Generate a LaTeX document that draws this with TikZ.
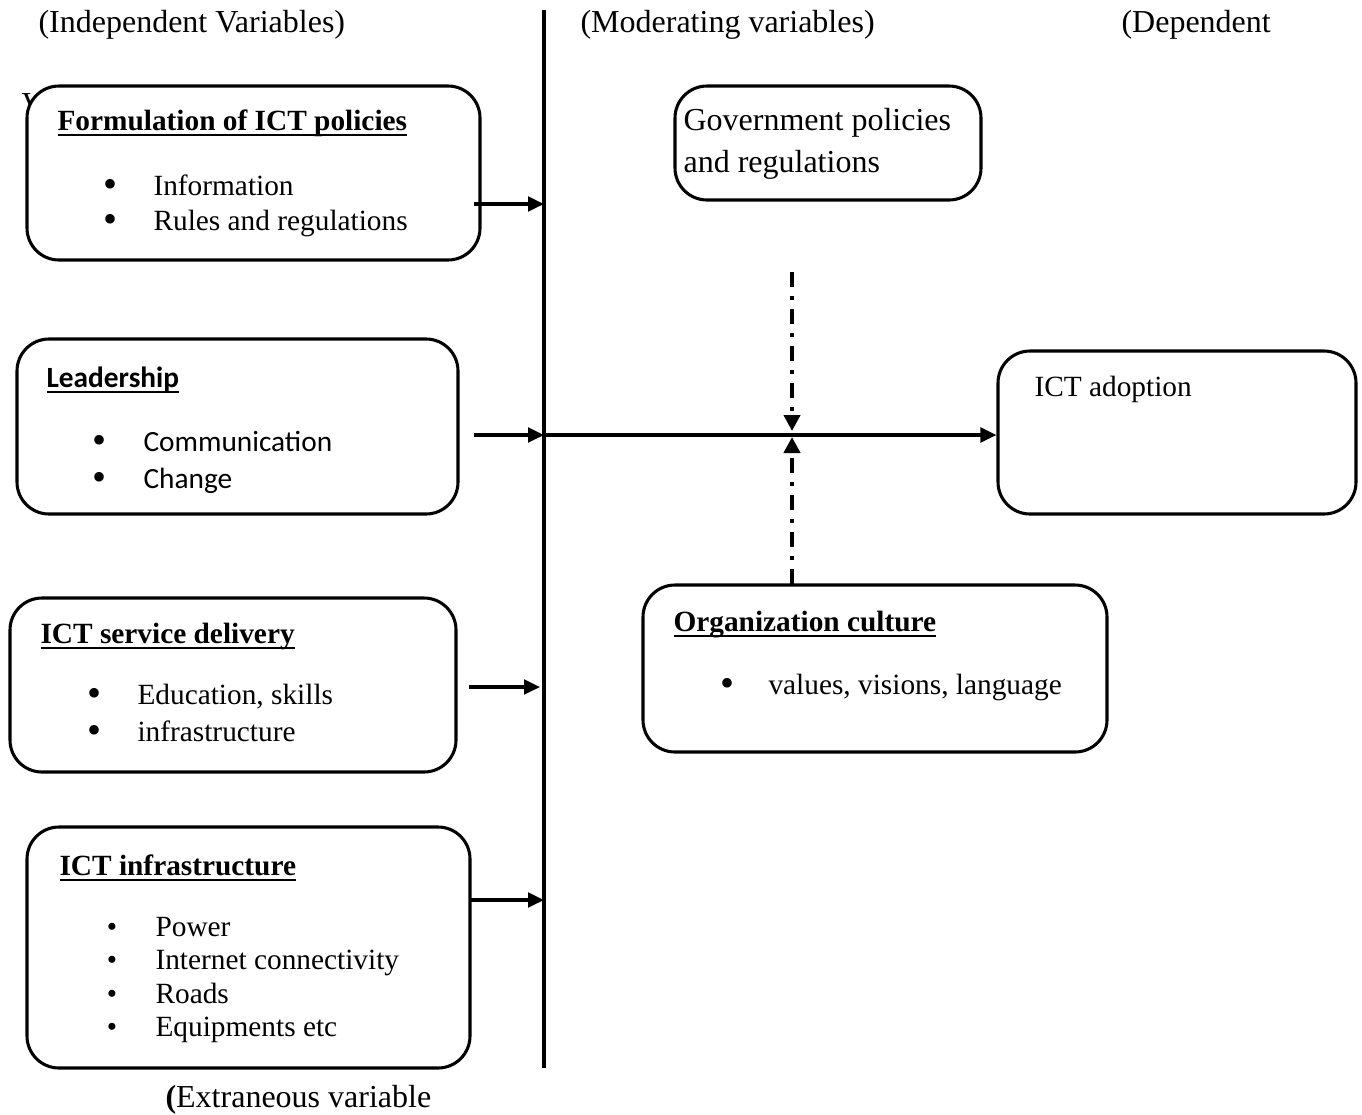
\documentclass[tikz,border=0pt]{standalone}
\usepackage{fontspec}
\setmainfont{Liberation Serif}
\newfontfamily\calfont{Carlito}
\usetikzlibrary{arrows.meta}
\def\pxu{0.375pt}
\newcommand\bul[1]{\setbox0\hbox{#1}\rlap{\rule[-2.2pt]{\wd0}{0.8pt}}\box0}
\newcommand\bigbul{\raisebox{-1.1pt}[0pt][0pt]{\fontsize{15}{15}\selectfont\textbullet}}
\tikzset{
  box/.style={draw, line width=1.15pt, rounded corners=12pt, fill=white, inner sep=0pt},
  htxt/.style={anchor=base west, inner sep=0pt, font=\fontsize{12}{14}\selectfont},
  txt/.style={anchor=base west, inner sep=0pt, font=\fontsize{11}{13}\selectfont},
  ctxt/.style={anchor=base west, inner sep=0pt, font=\calfont\fontsize{11}{13}\selectfont},
  bl/.style={anchor=base, inner sep=0pt, font=\fontsize{11}{13}\selectfont},
  arr/.style={line width=1.15pt, -{Triangle[length=6pt,width=5.5pt]}},
  dd/.style={line width=1.5pt, dash pattern=on 5.6pt off 3.4pt on 1.5pt off 3.4pt, -{Triangle[length=6pt,width=6pt]}}
}
\begin{document}
\begin{tikzpicture}[x=\pxu, y=-\pxu]
\useasboundingbox (0,0) rectangle (1362,1114);
% headers
\node[htxt] (hind) at (38,32) {(Independent Variables)};
\node[htxt] (hmod) at (580,32) {(Moderating variables)};
\node[htxt] (hdep) at (1121,32) {(Dependent};
\node[htxt] (hext) at (165,1107) {\textbf{(}Extraneous variable};
\node[htxt] (hv) at (21,114) {V};
% vertical line
\coordinate (vtop) at (544,10);
\coordinate (vbot) at (544,1068);
\draw[line width=1.4pt] (vtop) -- (vbot);
% boxes
\node[box, minimum width=453*\pxu, minimum height=174*\pxu] (b1) at (253.5,173) {};
\node[box, minimum width=441*\pxu, minimum height=175*\pxu] (b2) at (237.5,426.5) {};
\node[box, minimum width=446*\pxu, minimum height=174*\pxu] (b3) at (233,685) {};
\node[box, minimum width=443*\pxu, minimum height=241*\pxu] (b4) at (248.5,947.5) {};
\node[box, minimum width=306*\pxu, minimum height=114*\pxu] (gov) at (828,143) {};
\node[box, minimum width=358*\pxu, minimum height=163*\pxu] (adopt) at (1177,432.5) {};
\node[box, minimum width=464*\pxu, minimum height=167*\pxu] (org) at (875,668.5) {};
% box 1 text
\node[txt] (t1) at (57,130) {\bul{\textbf{Formulation of ICT policies}}};
\node[bl] (t1a) at (111,195) {\bigbul};
\node[txt] (t1b) at (153,195) {Information};
\node[bl] (t1c) at (111,230) {\bigbul};
\node[txt] (t1d) at (153,230) {Rules and regulations};
% box 2 text
\node[ctxt] (t2) at (46,387) {\bul{\textbf{Leadership}}};
\node[bl] (t2a) at (100,451) {\bigbul};
\node[ctxt] (t2b) at (143,451) {Communication};
\node[bl] (t2c) at (100,488) {\bigbul};
\node[ctxt] (t2d) at (143,488) {Change};
% box 3 text
\node[txt] (t3) at (40,643) {\bul{\textbf{ICT service delivery}}};
\node[bl] (t3a) at (95,704) {\bigbul};
\node[txt] (t3b) at (137,704) {Education, skills};
\node[bl] (t3c) at (95,741) {\bigbul};
\node[txt] (t3d) at (137,741) {infrastructure};
% box 4 text
\node[txt] (t4) at (59,875) {\bul{\textbf{ICT infrastructure}}};
\node[bl] (t4a) at (112,936) {\textbullet};
\node[txt] (t4b) at (155,936) {Power};
\node[bl] (t4c) at (112,969) {\textbullet};
\node[txt] (t4d) at (155,969) {Internet connectivity};
\node[bl] (t4e) at (112,1003) {\textbullet};
\node[txt] (t4f) at (155,1003) {Roads};
\node[bl] (t4g) at (112,1036) {\textbullet};
\node[txt] (t4h) at (155,1036) {Equipments etc};
% right boxes text
\node[htxt] (tg1) at (683,130) {Government policies};
\node[htxt] (tg2) at (683,172) {and regulations};
\node[txt] (ta) at (1034,396) {ICT adoption};
\node[txt] (to) at (673,631) {\bul{\textbf{Organization culture}}};
\node[bl] (toa) at (727,694) {\bigbul};
\node[txt] (tob) at (768,694) {values, visions, language};
% arrows
\coordinate (a1) at (474,204);
\coordinate (a2) at (474,435);
\coordinate (a3) at (469,687);
\coordinate (a4) at (470,900);
\draw[arr] (a1) -- (a1 -| vtop);
\draw[arr] (a2) -- (a2 -| vtop);
\draw[arr] (a3) -- (540,687);
\draw[arr] (a4) -- (a4 -| vtop);
\coordinate (mstart) at (544,435);
\draw[arr] (mstart) -- (mstart -| adopt.west);
\coordinate (d1) at (792,272);
\coordinate (d2) at (792,584);
\draw[dd] (d1) -- (792,431);
\draw[dd] (d2) -- (792,437);
\end{tikzpicture}
\end{document}
